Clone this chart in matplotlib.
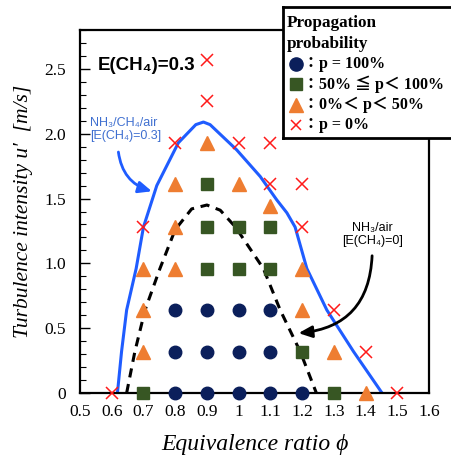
import matplotlib
matplotlib.use('Agg')
import matplotlib.pyplot as plt
import numpy as np

# marker data: equivalence ratio / turbulence intensity
circle_phi = [0.8, 0.9, 1.0, 1.1, 1.2, 0.8, 0.9, 1.0, 1.1, 0.8, 0.9, 1.0, 1.1]
circle_u = [0, 0, 0, 0, 0, 0.32, 0.32, 0.32, 0.32, 0.64, 0.64, 0.64, 0.64]

square_phi = [0.7, 1.3, 1.2, 0.9, 1.0, 1.1, 0.9, 1.0, 1.1, 0.9]
square_u = [0, 0, 0.32, 0.96, 0.96, 0.96, 1.28, 1.28, 1.28, 1.61]

tri_phi = [1.4, 0.7, 1.3, 0.7, 1.2, 0.7, 0.8, 1.2, 0.8, 1.1, 0.8, 1.0, 0.9]
tri_u = [0, 0.32, 0.32, 0.64, 0.64, 0.96, 0.96, 0.96, 1.28, 1.44, 1.61, 1.61, 1.93]

cross_phi = [0.6, 1.5, 1.4, 1.3, 0.7, 1.2, 1.1, 1.2, 0.8, 1.0, 1.1, 0.9, 0.9]
cross_u = [0, 0, 0.32, 0.64, 1.28, 1.28, 1.61, 1.61, 1.93, 1.93, 1.93, 2.25, 2.57]

# propagation limit, NH3/CH4/air (E=0.3)
blue_phi = [0.618, 0.631, 0.647, 0.677, 0.70, 0.742, 0.81, 0.865, 0.889, 0.91,
            0.994, 1.068, 1.12, 1.152, 1.178, 1.215, 1.278, 1.362, 1.452]
blue_u = [0, 0.32, 0.64, 0.96, 1.28, 1.6, 1.93, 2.07, 2.09, 2.07,
          1.875, 1.67, 1.49, 1.39, 1.28, 0.96, 0.64, 0.32, 0]

# propagation limit, NH3/air (E=0)
black_phi = [0.647, 0.673, 0.705, 0.752, 0.80, 0.852, 0.9, 0.942, 0.99,
             1.078, 1.131, 1.194, 1.245]
black_u = [0, 0.32, 0.64, 0.96, 1.26, 1.42, 1.45, 1.41, 1.28,
           0.96, 0.64, 0.32, 0]

xticks = [0.5, 0.6, 0.7, 0.8, 0.9, 1.0, 1.1, 1.2, 1.3, 1.4, 1.5, 1.6]
xtick_labels = ['0.5', '0.6', '0.7', '0.8', '0.9', '1', '1.1', '1.2', '1.3', '1.4', '1.5', '1.6']
yticks = [0, 0.5, 1.0, 1.5, 2.0, 2.5]
ytick_labels = ['0', '0.5', '1.0', '1.5', '2.0', '2.5']

c_circle = '#0b1f5b'
c_square = '#375623'
c_tri = '#ee7d31'
c_cross = '#ff1a1a'
c_blue = '#1f5cff'

serif = ['Liberation Serif', 'DejaVu Serif']

fig = plt.figure(figsize=(4.51, 4.66), dpi=100)
ax = fig.add_axes([80/451, 1-393/466, 349/451, 363/466])

ax.plot(blue_phi, blue_u, color=c_blue, lw=2.2, zorder=2)
ax.plot(black_phi, black_u, color='black', lw=2.2, ls=(0, (3, 2.2)), zorder=2)

ax.plot(circle_phi, circle_u, 'o', ms=9, color=c_circle, clip_on=False, zorder=3)
ax.plot(square_phi, square_u, 's', ms=8.5, color=c_square, clip_on=False, zorder=3)
ax.plot(tri_phi, tri_u, '^', ms=9.5, color=c_tri, clip_on=False, zorder=3)
ax.plot(cross_phi, cross_u, 'x', ms=9, mew=1.1, color=c_cross, clip_on=False, zorder=3)

ax.set_xlim(0.5, 1.6)
ax.set_ylim(0, 2.8)
ax.set_xticks(xticks)
ax.set_xticklabels(xtick_labels, family=serif, fontsize=12.5)
ax.set_yticks(yticks)
ax.set_yticklabels(ytick_labels, family=serif, fontsize=12.5)
ax.set_yticks(np.arange(0, 2.81, 0.1), minor=True)
ax.tick_params(axis='x', length=0, pad=8)
ax.tick_params(axis='y', which='major', direction='in', length=7, width=1, pad=10)
ax.tick_params(axis='y', which='minor', direction='in', length=4, width=0.8)
for s in ax.spines.values():
    s.set_linewidth(1.6)

ax.set_xlabel('Equivalence ratio ϕ', family=serif, style='italic', fontsize=17, labelpad=10)
ax.set_ylabel('Turbulence intensity u′  [m/s]', family=serif, style='italic', fontsize=15.5, labelpad=8)

ax.text(0.557, 2.53, 'E(CH₄)=0.3', family=['Liberation Sans', 'DejaVu Sans'],
        fontweight='bold', fontsize=13.5, va='center', ha='left')

narrow = ['Liberation Sans Narrow', 'Liberation Sans', 'DejaVu Sans']
ax.text(0.531, 2.03, 'NH₃/CH₄/air\n[E(CH₄)=0.3]', family=narrow, fontsize=9,
        color='#3f6fd0', va='center', ha='left', linespacing=1.1)
ax.annotate('', xy=(0.735, 1.55), xytext=(0.62, 1.88),
            arrowprops=dict(arrowstyle='-|>,head_length=0.8,head_width=0.35', color=c_blue, lw=2,
                            connectionstyle='arc3,rad=0.35'))

ax.text(1.421, 1.22, 'NH₃/air\n[E(CH₄)=0]', family=narrow, fontsize=9,
        color='black', va='center', ha='center', linespacing=1.1)
ax.annotate('', xy=(1.18, 0.46), xytext=(1.421, 1.08),
            arrowprops=dict(arrowstyle='-|>,head_length=0.8,head_width=0.35', color='black', lw=2,
                            connectionstyle='arc3,rad=-0.45'))

# legend box drawn in its own axes, in pixel offsets from its top-left corner
lg = fig.add_axes([283/451, 1-138/466, 190/451, 131/466])
lg.set_xlim(0, 190)
lg.set_ylim(131, 0)
lg.set_xticks([])
lg.set_yticks([])
for s in lg.spines.values():
    s.set_linewidth(2)
legend_font = ['Liberation Serif', 'Noto Sans CJK JP', 'DejaVu Serif']
lg.text(4, 16, 'Propagation', family=legend_font, fontweight='bold', fontsize=12.3, va='center')
lg.text(4, 37, 'probability', family=legend_font, fontweight='bold', fontsize=12.3, va='center')
lg.plot(13, 57, 'o', ms=9.5, color=c_circle)
lg.plot(13, 77, 's', ms=8.5, color=c_square)
lg.plot(13, 98, '^', ms=10, color=c_tri)
lg.plot(13, 118, 'x', ms=7, mew=1.1, color=c_cross)
labels = ['：p = 100%', '：50% ≦ p＜ 100%', '：0%＜ p＜ 50%', '：p = 0%']
for yy, t in zip([57, 77, 98, 118], labels):
    lg.text(20, yy, t, family=legend_font, fontweight='bold', fontsize=11.5, va='center')

fig.savefig('out.png', dpi=100)
